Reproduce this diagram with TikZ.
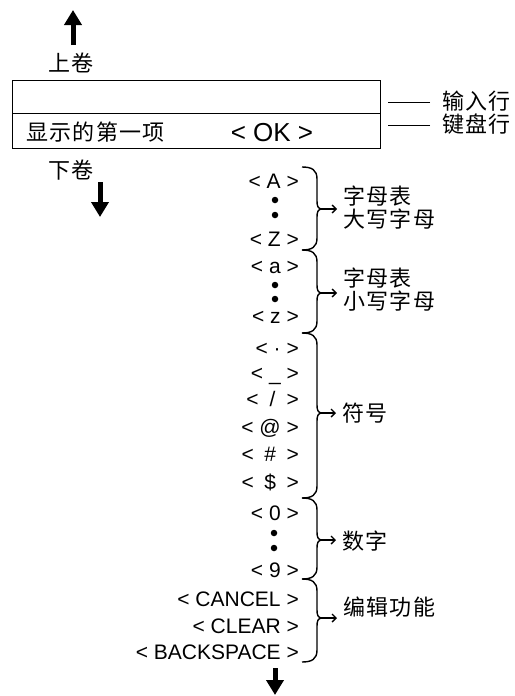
\documentclass[tikz,border=0pt]{standalone}
\usepackage{fontspec}
\setmainfont{Liberation Sans}
\newfontfamily\cjk[LetterSpace=6]{Noto Sans CJK SC}
\usetikzlibrary{arrows.meta,calc}
\newcommand\grpbrace[4]{%
 \draw[brc] (302,#1) .. controls (312,#1) and (317,#1+3) .. (317,#1+12) -- (317,#3-8)
   .. controls (317,#3-3) and (318,#3) .. (322,#3)
   .. controls (318,#3) and (317,#3+3) .. (317,#3+8) -- (317,#2-12)
   .. controls (317,#2-3) and (312,#2) .. (302,#2);
 \coordinate (#4) at (322,#3);}
\begin{document}
\begin{tikzpicture}[x=1pt,y=-1pt,
 lat/.style={font=\fontsize{21}{25}\selectfont, inner sep=0pt},
 zh/.style={font=\fontsize{22}{23}\cjk, inner sep=0pt, align=left},
 bigarrow/.style={line width=5pt, -{Triangle[length=15pt,width=17pt]}},
 brc/.style={line width=1.4pt},
 tiparrow/.style={line width=1.4pt, -{Straight Barb[length=4pt,width=8pt]}},
 dotmark/.style={circle, fill, inner sep=0pt, minimum size=6.5pt},
 rowbox/.style={draw, line width=1.4pt, minimum width=368pt, inner sep=0pt, anchor=north west}]
\useasboundingbox (0,0) rectangle (514,696);

% display box
\node[rowbox, minimum height=33pt] (inputrow) at (12,80) {};
\node[rowbox, minimum height=35pt] (kbdrow) at (12,113) {};
\node[zh, anchor=west] (first) at (26,132) {显示的第一项};
\node[lat, font=\fontsize{26}{30}\selectfont, anchor=base] (ok) at (272,141.5) {< OK >};

% scroll labels and arrows
\node[zh] (up) at (71,63) {上卷};
\node[zh] (down) at (71,170) {下卷};
\coordinate (upA) at (73,45);
\coordinate (upB) at (73,10);
\draw[bigarrow] (upA) -- (upB);
\coordinate (dnA) at (100,182);
\coordinate (dnB) at (100,217);
\draw[bigarrow] (dnA) -- (dnB);

% row labels
\node[zh, anchor=west] (lin) at (442,101) {输入行};
\node[zh, anchor=west] (lkb) at (442,124) {键盘行};
\draw[line width=1pt] ($(lin.west)+(-12,1)$) -- ++(-42,0);
\draw[line width=1pt] ($(lkb.west)+(-12,1)$) -- ++(-42,0);

% keyboard items
\node[lat, anchor=base east] (kA) at (299,188) {< A >};
\node[dotmark] (d1) at (275,200) {};
\node[dotmark] (d2) at (275,215) {};
\node[lat, anchor=base east] (kZ) at (299,246) {< Z >};
\node[lat, anchor=base east] (ka) at (299,273) {< a >};
\node[dotmark] (d3) at (275,285) {};
\node[dotmark] (d4) at (275,299) {};
\node[lat, anchor=base east] (kz) at (299,323) {< z >};
\node[lat, anchor=base east] (kdot) at (299,355) {< · >};
\node[lat, anchor=base east] (kus) at (299,380) {< \_ >};
\node[lat, anchor=base east] (ksl) at (299,406) {<\hspace{11pt}/\hspace{11pt}>};
\node[lat, anchor=base east] (kat) at (299,434) {< @ >};
\node[lat, anchor=base east] (khs) at (299,461) {<\hspace{10.5pt}\#\hspace{10.5pt}>};
\node[lat, anchor=base east] (kds) at (299,489) {<\hspace{10.5pt}\$\hspace{10.5pt}>};
\node[lat, anchor=base east] (k0) at (299,520) {< 0 >};
\node[dotmark] (d5) at (274,533) {};
\node[dotmark] (d6) at (274,548) {};
\node[lat, anchor=base east] (k9) at (299,577) {< 9 >};
\node[lat, anchor=base east] (kcan) at (299,606) {< CANCEL >};
\node[lat, anchor=base east] (kclr) at (299,633) {< CLEAR >};
\node[lat, anchor=base east] (kbs) at (299,659) {< BACKSPACE >};

% braces
\grpbrace{167}{250}{209}{t1}
\grpbrace{250}{333}{293}{t2}
\grpbrace{333}{498}{413}{t3}
\grpbrace{498}{579}{540}{t4}
\grpbrace{579}{662}{618}{t5}

% group labels
\node[zh, anchor=west] (g1) at (343,208) {字母表\\大写字母};
\node[zh, anchor=west] (g2) at (343,290) {字母表\\小写字母};
\node[zh, anchor=west] (g3) at (342,413) {符号};
\node[zh, anchor=west] (g4) at (342,541) {数字};
\node[zh, anchor=west] (g5) at (343,607) {编辑功能};
\draw[tiparrow] (t1) -- ($(t1 -| g1.west)+(-6,0)$);
\draw[tiparrow] (t2) -- ($(t2 -| g2.west)+(-6,0)$);
\draw[tiparrow] (t3) -- ($(t3 -| g3.west)+(-6,0)$);
\draw[tiparrow] (t4) -- ($(t4 -| g4.west)+(-6,0)$);
\draw[tiparrow] (t5) -- ($(t5 -| g5.west)+(-6,0)$);

% bottom arrow
\coordinate (btA) at (275,668);
\coordinate (btB) at (275,695);
\draw[bigarrow] (btA) -- (btB);
\end{tikzpicture}
\end{document}
